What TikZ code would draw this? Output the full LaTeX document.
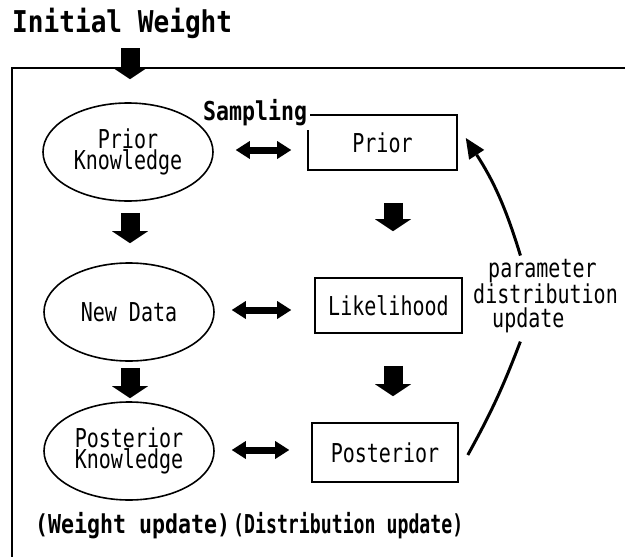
\documentclass[tikz,border=0pt]{standalone}
\usepackage{fontspec}
\usetikzlibrary{shapes.geometric,arrows.meta,calc}
% monospaced faces, horizontally condensed
\newfontfamily\lblfont{DejaVu Sans Mono}[FakeStretch=0.77]
\newfontfamily\ttlfont{DejaVu Sans Mono}[FakeStretch=0.87]
\newfontfamily\hdfont{DejaVu Sans Mono}[FakeStretch=0.83]
\newfontfamily\hdnarrowfont{DejaVu Sans Mono}[FakeStretch=0.70]

\begin{document}
\begin{tikzpicture}[x=1pt,y=-1pt,
  knowledge/.style={ellipse, draw, line width=1.6pt, minimum width=170pt,
    minimum height=98pt, inner sep=0pt, align=center,
    font={\lblfont\fontsize{26}{21}\selectfont}},
  distbox/.style={rectangle, draw, line width=1.6pt, minimum height=55pt,
    inner sep=0pt, font={\lblfont\fontsize{26}{26}\selectfont}},
  plain/.style={inner sep=0pt, anchor=base west,
    font={\lblfont\fontsize{26}{26}\selectfont}},
  heading/.style={inner sep=0pt, anchor=base west,
    font={\hdfont\bfseries\fontsize{26}{26}\selectfont}},
  flow/.style={line width=19pt, -{Triangle[length=12pt,width=36pt,line width=0pt]}},
  dbl/.style={line width=7pt,
    {Triangle[length=14pt,width=18pt,line width=0pt]}-{Triangle[length=14pt,width=18pt,line width=0pt]}},
  upd/.style={line width=3pt},
  frame/.style={line width=2pt}
]
\useasboundingbox (0,0) rectangle (625,557);

% outer frame (open to the right and bottom)
\coordinate (frameBL) at (12,557);
\coordinate (frameTL) at (12,68);
\coordinate (frameTR) at (625,68);
\draw[frame] (frameBL) -- (frameTL) -- (frameTR);

% column guides
\coordinate (lc) at (130,0);
\coordinate (rc) at (393,0);

% title
\node[inner sep=0pt, anchor=base west,
  font={\ttlfont\bfseries\fontsize{30}{30}\selectfont}] (title) at (12,32) {Initial Weight};

% distribution column
\node[distbox, minimum width=149pt] (prior) at (382.5,142.5) {Prior};
\node[distbox, minimum width=147pt] (lik) at (388.5,305.5) {Likelihood};
\node[distbox, minimum width=146pt, minimum height=59pt] (post) at (385,452.5) {Posterior};

% sampling label over the corner of the prior box
\node[heading, fill=white, inner xsep=3pt, inner ysep=5pt] (samp) at (200,120) {Sampling};

% knowledge column
\node[knowledge] (pk) at (128,152) {Prior\\Knowledge};
\node[knowledge] (nd) at (129,312) {New Data};
\node[knowledge] (pkn) at (129,451) {Posterior\\Knowledge};

% vertical flow arrows
\draw[flow] ($(title.base -| lc)+(0,16)$) -- ($(pk.north -| lc)+(0,-23)$);
\draw[flow] ($(pk.south -| lc)+(0,11)$) -- ($(nd.north -| lc)+(0,-19)$);
\draw[flow] ($(nd.south -| lc)+(0,6)$) -- ($(pkn.north -| lc)+(0,-3)$);
\draw[flow] ($(prior.south -| rc)+(0,32)$) -- ($(lik.north -| rc)+(0,-46)$);
\draw[flow] ($(lik.south -| rc)+(0,32)$) -- ($(post.north -| rc)+(0,-26)$);

% two-way links
\draw[dbl] ($(pk.east)+(22,-2)$) -- ($(pk.east -| prior.west)+(-16,-2)$);
\draw[dbl] ($(nd.east)+(17,-2)$) -- ($(nd.east -| lik.west)+(-23,-2)$);
\draw[dbl] ($(pkn.east)+(17,-1)$) -- ($(pkn.east -| post.west)+(-22,-1)$);

% parameter update loop
\node[plain] (p1) at (488,277) {parameter};
\node[plain] (p2) at (473,303) {distribution};
\node[plain] (p3) at (492,327) {update};
\draw[upd] ($(post.east)+(9,2.5)$) to[bend right=4] ($(p3.south)+(-8,9)$);
\draw[upd, -{Triangle[length=20pt,width=18pt,line width=0pt]}]
  ($(p1.north)+(-22,-3)$) to[bend right=8] ($(prior.east)+(8,-4.5)$);

% column captions
\node[heading] (wu) at (35,533) {(Weight update)};
\node[inner sep=0pt, anchor=base west,
  font={\hdnarrowfont\bfseries\fontsize{26}{26}\selectfont}] (du) at (233,533) {(Distribution update)};
\end{tikzpicture}
\end{document}
